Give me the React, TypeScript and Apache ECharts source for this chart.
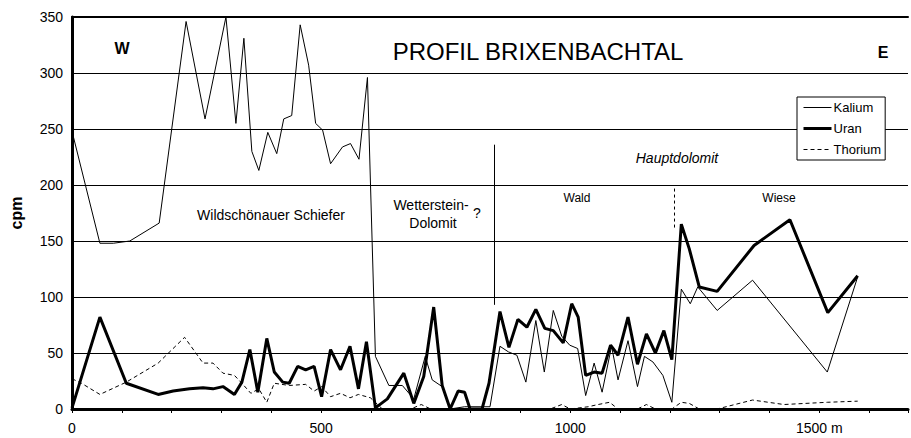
import React, { useEffect, useRef } from "react";
import * as echarts from "echarts";

const seriesNames = ["Kalium", "Uran", "Thorium"];

const kalium: [number, number][] = [
  [0, 248], [56, 148], [83, 148], [116, 150], [175, 166], [229, 346], [267, 259],
  [309, 350], [329, 255], [345, 331], [361, 230], [375, 213], [393, 247], [411, 228],
  [425, 259], [441, 262], [458, 343], [475, 307], [489, 255], [503, 249], [519, 219],
  [543, 234], [559, 237], [576, 223], [593, 296], [609, 47], [636, 21], [663, 21],
  [686, 9], [709, 47], [723, 26], [743, 20], [759, 0], [788, 2], [823, 2], [839, 2],
  [859, 56], [876, 51], [893, 48], [911, 24], [931, 79], [948, 33], [966, 88],
  [983, 65], [999, 57], [1015, 54], [1031, 12], [1048, 41], [1064, 15], [1083, 56],
  [1096, 26], [1116, 61], [1135, 20], [1149, 47], [1166, 42], [1186, 30], [1204, 6],
  [1223, 107], [1241, 94], [1256, 109], [1295, 88], [1366, 115], [1516, 33], [1577, 118],
];

const uran: [number, number][] = [
  [0, 1], [56, 82], [109, 23], [173, 13], [203, 16], [236, 18], [263, 19], [283, 18],
  [303, 20], [326, 13], [341, 24], [357, 53], [373, 15], [391, 63], [406, 33], [423, 24],
  [436, 23], [453, 38], [469, 35], [486, 38], [501, 11], [519, 53], [539, 35], [558, 56],
  [575, 18], [591, 60], [609, 1], [633, 9], [666, 32], [686, 5], [706, 29], [726, 91],
  [743, 21], [759, 0], [775, 16], [788, 15], [799, 0], [823, 0], [837, 23], [859, 87],
  [877, 55], [895, 80], [913, 73], [931, 89], [949, 72], [966, 70], [986, 59], [1003, 94],
  [1016, 82], [1031, 30], [1048, 33], [1064, 32], [1081, 57], [1096, 48], [1116, 82],
  [1135, 40], [1153, 67], [1171, 50], [1188, 70], [1204, 44], [1223, 165], [1239, 143],
  [1259, 109], [1295, 105], [1369, 146], [1441, 169], [1517, 86], [1577, 119],
];

const thorium: [number, number][] = [
  [0, 27], [19, 23], [56, 13], [109, 24], [173, 41], [226, 64], [263, 41], [283, 41],
  [303, 32], [326, 30], [341, 23], [359, 14], [375, 18], [391, 6], [406, 23], [436, 21],
  [469, 22], [486, 16], [501, 20], [519, 11], [539, 14], [558, 10], [575, 13], [599, 10],
  [623, 0], [680, 0], [701, 4], [720, 0], [960, 0], [983, 4], [1000, 0], [1036, 2],
  [1056, 4], [1079, 6], [1096, 0], [1135, 0], [1153, 4], [1171, 0], [1204, 0], [1223, 6],
  [1239, 5], [1259, 0], [1295, 0], [1366, 8], [1429, 4], [1516, 6], [1577, 7],
];

// boundary markers: [x, yFrom, yTo]
const boundarySolid: [number, number, number] = [848, 93, 236];
const boundaryDashed: [number, number, number] = [1208, 162, 198];

const xLabelValues = [0, 500, 1000, 1500];
const FONT = "'Liberation Sans', Arial, sans-serif";

const lineStyles: Record<string, any> = {
  Kalium: { color: "#000", width: 1, type: "solid" },
  Uran: { color: "#000", width: 3, type: "solid" },
  Thorium: { color: "#000", width: 1, type: [4, 3] },
};

export default function App() {
  const ref = useRef<HTMLDivElement>(null);
  useEffect(() => {
    const chart = echarts.init(ref.current!, null, { renderer: "svg" });
    const txt = (text: string, x: number, y: number, font: string) => ({
      type: "text",
      x,
      y,
      silent: true,
      style: {
        text,
        fill: "#000",
        font,
        align: "center",
        verticalAlign: "middle",
        textAlign: "center",
        textVerticalAlign: "middle",
      },
    });
    chart.setOption({
      animation: false,
      backgroundColor: "#fff",
      textStyle: { fontFamily: FONT },
      title: {
        text: "PROFIL BRIXENBACHTAL",
        left: 533,
        top: 34,
        textAlign: "center",
        textStyle: { fontFamily: FONT, fontSize: 24, fontWeight: "normal", color: "#000" },
      },
      legend: {
        data: seriesNames.map((n) => ({
          name: n,
          itemStyle: { opacity: 0 },
          lineStyle: { ...lineStyles[n] },
        })),
        orient: "vertical",
        left: 797,
        top: 97,
        padding: [4, 4, 4, 5],
        itemGap: 8,
        itemWidth: 28,
        itemHeight: 14,
        backgroundColor: "#fff",
        borderColor: "#000",
        borderWidth: 1,
        borderRadius: 0,
        textStyle: { fontFamily: FONT, fontSize: 13, color: "#000", padding: [0, 0, 0, -3] },
      },
      grid: { left: 72, right: 0, top: 17, bottom: 29, containLabel: false },
      xAxis: [
        {
          type: "value",
          min: 0,
          max: 1678,
          interval: 100,
          axisLine: { show: true, lineStyle: { color: "#000", width: 3 } },
          axisTick: { show: true, length: 4, lineStyle: { color: "#000", width: 1 } },
          splitLine: { show: false },
          axisLabel: {
            color: "#000",
            fontSize: 14,
            margin: 12,
            fontFamily: FONT,
            formatter: (v: number) =>
              xLabelValues.includes(v) ? (v === 1500 ? "1500 m" : String(v)) : "",
          },
        },
        {
          type: "value",
          position: "top",
          min: 0,
          max: 1678,
          axisLine: { show: true, onZero: false, lineStyle: { color: "#000", width: 2 } },
          axisTick: { show: false },
          axisLabel: { show: false },
          splitLine: { show: false },
        },
      ],
      yAxis: {
        type: "value",
        min: 0,
        max: 350,
        interval: 50,
        name: "cpm",
        nameLocation: "middle",
        nameGap: 48,
        nameTextStyle: { fontFamily: FONT, fontSize: 16, fontWeight: "bold", color: "#000" },
        axisLine: { show: true, lineStyle: { color: "#000", width: 3 } },
        axisTick: { show: false },
        splitLine: { show: true, lineStyle: { color: "#000", width: 1 } },
        axisLabel: { color: "#000", fontSize: 14, margin: 9, fontFamily: FONT },
      },
      series: [
        {
          name: "Kalium",
          type: "line",
          data: kalium,
          symbol: "none",
          lineStyle: lineStyles.Kalium,
          itemStyle: { color: "#000" },
          z: 3,
          markLine: {
            silent: true,
            symbol: "none",
            label: { show: false },
            data: [
              [
                { coord: [boundarySolid[0], boundarySolid[1]], lineStyle: { color: "#000", width: 1, type: "solid" } },
                { coord: [boundarySolid[0], boundarySolid[2]] },
              ],
              [
                { coord: [boundaryDashed[0], boundaryDashed[1]], lineStyle: { color: "#000", width: 1, type: [3, 3] } },
                { coord: [boundaryDashed[0], boundaryDashed[2]] },
              ],
            ],
          },
        },
        {
          name: "Uran",
          type: "line",
          data: uran,
          symbol: "none",
          lineStyle: lineStyles.Uran,
          itemStyle: { color: "#000" },
          z: 4,
        },
        {
          name: "Thorium",
          type: "line",
          data: thorium,
          symbol: "none",
          lineStyle: lineStyles.Thorium,
          itemStyle: { color: "#000" },
          z: 2,
        },
      ],
      graphic: [
        txt("W", 122, 48, `bold 16px ${FONT}`),
        txt("E", 883, 52, `bold 16px ${FONT}`),
        txt("Wildschönauer Schiefer", 271, 215, `14px ${FONT}`),
        txt("Wetterstein-", 431, 205, `14px ${FONT}`),
        txt("Dolomit", 433, 223, `14px ${FONT}`),
        txt("?", 477, 213, `14px ${FONT}`),
        txt("Wald", 577, 198, `12px ${FONT}`),
        txt("Hauptdolomit", 677, 158, `italic 14px ${FONT}`),
        txt("Wiese", 779, 198, `12px ${FONT}`),
      ],
    });
    return () => chart.dispose();
  }, []);
  return (
    <div
      ref={ref}
      style={{ position: "absolute", left: 0, top: 0, width: 911, height: 438 }}
    />
  );
}
